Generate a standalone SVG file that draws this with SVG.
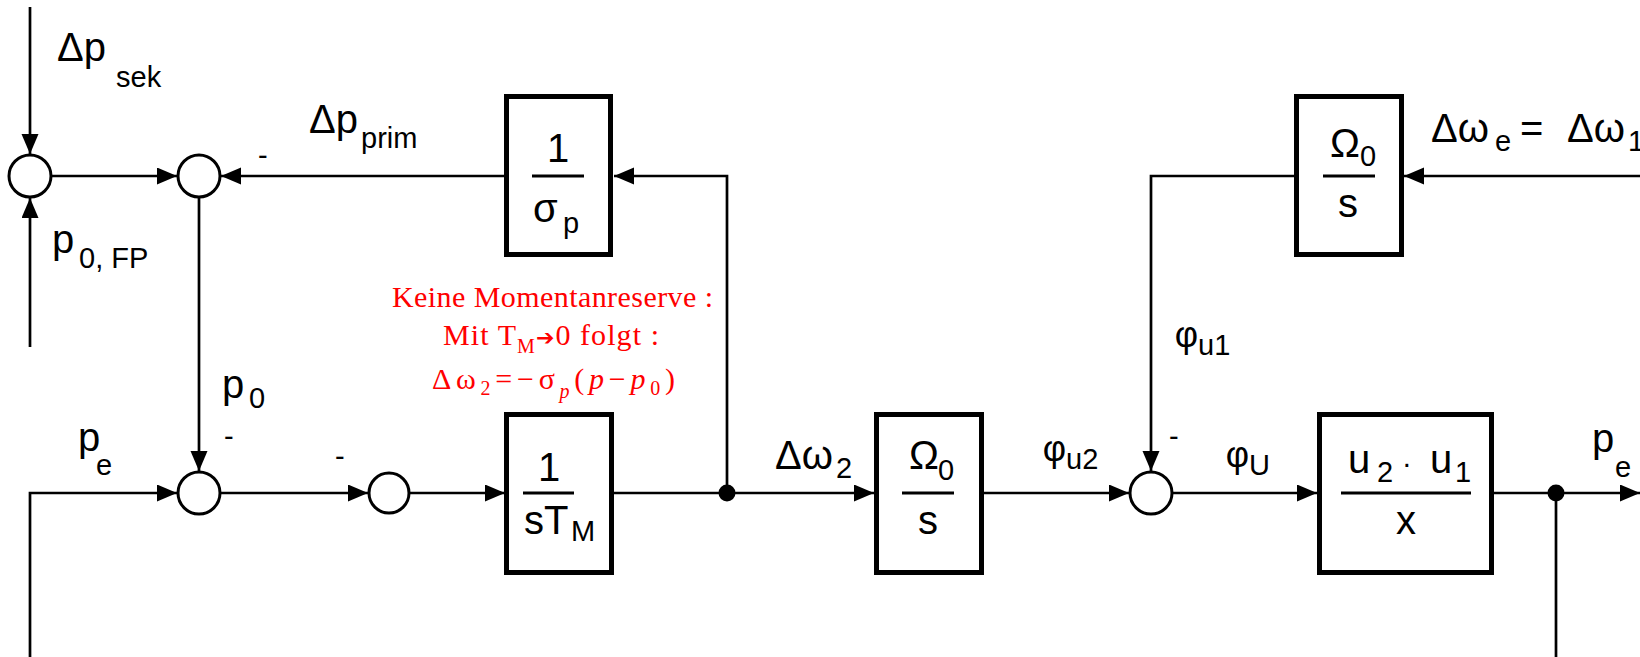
<svg xmlns="http://www.w3.org/2000/svg" width="1640" height="657" viewBox="0 0 1640 657">
<style>
.ln{fill:none;stroke:#000;stroke-width:2.7}
.arr{marker-end:url(#ah)}
.sum{fill:#fff;stroke:#000;stroke-width:3}
.box{fill:#fff;stroke:#000;stroke-width:5}
.frac{stroke:#000;stroke-width:3}
.t{font-family:"Liberation Sans",Arial,sans-serif;font-size:40px;fill:#000}
.s{font-family:"Liberation Sans",Arial,sans-serif;font-size:29px;fill:#000}
.phi{font-family:"Liberation Sans",Arial,sans-serif;font-size:36px;fill:#000}
.r{font-family:"Liberation Serif","Times New Roman",serif;font-size:30px;fill:#ff0000}
.rs{font-size:20px}
</style>
<defs>
<marker id="ah" markerUnits="userSpaceOnUse" markerWidth="22" markerHeight="18" refX="20" refY="8.5" orient="auto">
<path d="M0,0 L20,8.5 L0,17 z" fill="#000"/>
</marker>
</defs>
<rect width="1640" height="657" fill="#fff"/>
<g id="connectors">
<path class="ln arr" d="M30,7 V154"/>
<path class="ln arr" d="M30,347 V198"/>
<path class="ln arr" d="M51,176 H177"/>
<path class="ln arr" d="M506,176 H221"/>
<path class="ln arr" d="M727,493 V176 H614"/>
<path class="ln arr" d="M199,197 V471"/>
<path class="ln arr" d="M30,657 V493 H177"/>
<path class="ln arr" d="M220,493 H368"/>
<path class="ln arr" d="M409,493 H505"/>
<path class="ln arr" d="M614,493 H874"/>
<path class="ln arr" d="M984,493 H1129"/>
<path class="ln arr" d="M1172,493 H1317"/>
<path class="ln arr" d="M1494,493 H1640"/>
<path class="ln" d="M1556,493 V657"/>
<path class="ln arr" d="M1640,176 H1404"/>
<path class="ln arr" d="M1294,176 H1151 V471"/>
<circle cx="727" cy="493" r="8.5" fill="#000"/>
<circle cx="1556" cy="493" r="8.5" fill="#000"/>
</g>
<g id="sum1"><circle class="sum" cx="30" cy="176" r="21"/></g>
<g id="sum2"><circle class="sum" cx="199" cy="176" r="21"/></g>
<g id="sum3"><circle class="sum" cx="199" cy="493" r="21"/></g>
<g id="sum4"><circle class="sum" cx="389" cy="493" r="20"/></g>
<g id="sum5"><circle class="sum" cx="1151" cy="493" r="21"/></g>
<g id="box-sigma">
<rect class="box" x="506.5" y="96.5" width="104" height="158"/>
<line class="frac" x1="532" y1="176" x2="584" y2="176"/>
<text class="t" x="558" y="162" text-anchor="middle">1</text>
<text class="t" x="533" y="222">σ</text><text class="s" x="563" y="233">p</text>
</g>
<g id="box-stm">
<rect class="box" x="506.5" y="414.5" width="105" height="158"/>
<line class="frac" x1="523" y1="493" x2="574" y2="493"/>
<text class="t" x="549" y="481" text-anchor="middle">1</text>
<text class="t" x="524" y="534">sT</text><text class="s" x="571" y="541">M</text>
</g>
<g id="box-omega2">
<rect class="box" x="876.5" y="414.5" width="105" height="158"/>
<line class="frac" x1="902" y1="493" x2="954" y2="493"/>
<text class="t" x="909" y="469">Ω</text><text class="s" x="938" y="480">0</text>
<text class="t" x="928" y="534" text-anchor="middle">s</text>
</g>
<g id="box-u">
<rect class="box" x="1319.5" y="414.5" width="172" height="158"/>
<line class="frac" x1="1341" y1="493" x2="1471" y2="493"/>
<text class="t" x="1348" y="473">u</text><text class="s" x="1377" y="482">2</text>
<text class="s" x="1402" y="473">·</text>
<text class="t" x="1430" y="473">u</text><text class="s" x="1455" y="482">1</text>
<text class="t" x="1406" y="534" text-anchor="middle">x</text>
</g>
<g id="box-omega1">
<rect class="box" x="1296.5" y="96.5" width="105" height="158"/>
<line class="frac" x1="1323" y1="176" x2="1375" y2="176"/>
<text class="t" x="1330" y="157">Ω</text><text class="s" x="1360" y="166">0</text>
<text class="t" x="1348" y="217" text-anchor="middle">s</text>
</g>
<g id="labels">
<text class="t" x="57" y="61">Δp</text><text class="s" x="116" y="87">sek</text>
<text class="t" x="309" y="133">Δp</text><text class="s" x="361" y="148">prim</text>
<text class="s" x="258" y="165">-</text>
<text class="t" x="52" y="253">p</text><text class="s" x="79" y="268">0, FP</text>
<text class="t" x="222" y="398">p</text><text class="s" x="249" y="408">0</text>
<text class="s" x="224" y="446">-</text>
<text class="t" x="78" y="451">p</text><text class="s" x="96" y="475">e</text>
<text class="s" x="335" y="466">-</text>
<text class="t" x="775" y="469">Δω</text><text class="s" x="836" y="478">2</text>
<text class="phi" x="1066" y="461" text-anchor="end">φ</text><text class="s" x="1066" y="469">u2</text>
<text class="phi" x="1198" y="347" text-anchor="end">φ</text><text class="s" x="1198" y="355">u1</text>
<text class="phi" x="1249" y="467" text-anchor="end">φ</text><text class="s" x="1249" y="475">U</text>
<text class="s" x="1169" y="446">-</text>
<text class="t" x="1592" y="452">p</text><text class="s" x="1615" y="477">e</text>
<text class="t" x="1431" y="142">Δω</text><text class="s" x="1495" y="151">e</text>
<text class="t" x="1520" y="142">=</text>
<text class="t" x="1567" y="142">Δω</text><text class="s" x="1628" y="151">1</text>
</g>
<g id="note">
<text class="r" x="392" y="307" textLength="321" lengthAdjust="spacing">Keine Momentanreserve :</text>
<text class="r" x="443" y="345" textLength="216" lengthAdjust="spacing">Mit T<tspan class="rs" dy="8">M</tspan><tspan dy="-8" style="font-family:'DejaVu Sans',sans-serif;font-size:22px">➔</tspan>0 folgt :</text>
<text class="r" x="432" y="389" textLength="243" lengthAdjust="spacing">Δω<tspan class="rs" dy="6">2</tspan><tspan dy="-6">=−σ</tspan><tspan class="rs" dy="9" font-style="italic">p</tspan><tspan dy="-9">(</tspan><tspan font-style="italic">p</tspan>−<tspan font-style="italic">p</tspan><tspan class="rs" dy="6">0</tspan><tspan dy="-6">)</tspan></text>
</g>
</svg>
